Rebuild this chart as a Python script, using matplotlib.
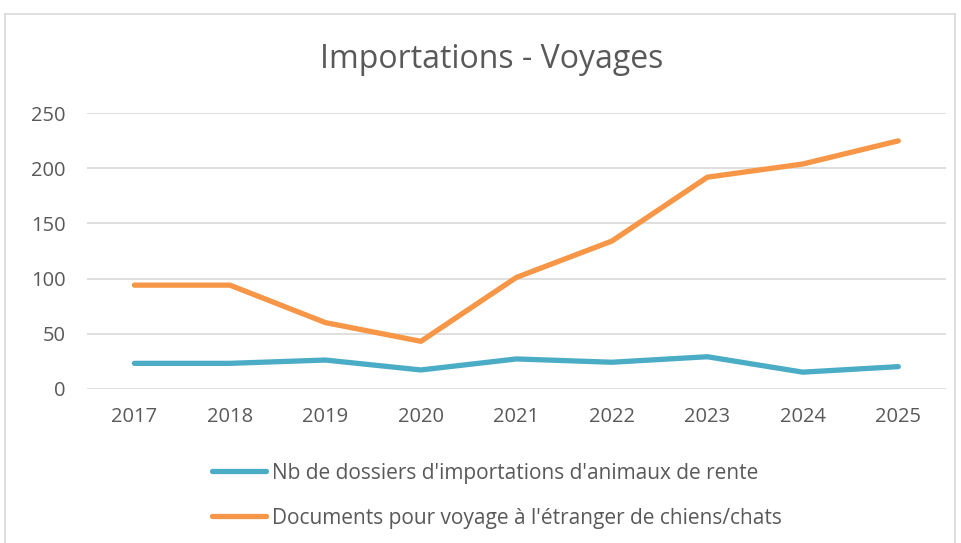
import matplotlib.pyplot as plt
from matplotlib.patches import Rectangle

years = ['2017', '2018', '2019', '2020', '2021', '2022', '2023', '2024', '2025']
dossiers_rente = [23, 23, 26, 17, 27, 24, 29, 15, 20]
docs_voyage = [94, 94, 60, 43, 101, 134, 192, 204, 225]

label_rente = "Nb de dossiers d'importations d'animaux de rente"
label_voyage = "Documents pour voyage à l'étranger de chiens/chats"

blue = '#4BACC6'
orange = '#F79646'
text_col = '#595959'
grid_col = '#D9D9D9'

plt.rcParams['font.family'] = ['Open Sans', 'DejaVu Sans']

fig = plt.figure(figsize=(9.61, 5.43), dpi=100)
ax = fig.add_axes([0.0902, 0.2842, 0.8942, 0.5071])

# chart frame like the spreadsheet export
fig.patches.append(Rectangle((5 / 961, -0.05), 950 / 961, 1 - 14 / 543 + 0.05,
                             transform=fig.transFigure, fill=False,
                             edgecolor=grid_col, linewidth=1.2))

x = range(len(years))
l1, = ax.plot(x, dossiers_rente, color=blue, lw=3.8, solid_capstyle='round',
              solid_joinstyle='round', label=label_rente)
l2, = ax.plot(x, docs_voyage, color=orange, lw=3.8, solid_capstyle='round',
              solid_joinstyle='round', label=label_voyage)

ax.set_xlim(-0.5, len(years) - 0.5)
ax.set_ylim(0, 250)
ax.set_yticks(range(0, 251, 50))
ax.set_xticks(list(x))
ax.set_xticklabels(years)
ax.grid(axis='y', color=grid_col, lw=1.2)
ax.set_axisbelow(True)
for s in ax.spines.values():
    s.set_visible(False)
ax.tick_params(length=0, labelsize=14.5, labelcolor=text_col)
ax.tick_params(axis='y', pad=15)
ax.tick_params(axis='x', pad=13)

fig.text(0.512, 1 - 59 / 543, 'Importations - Voyages', ha='center', va='center',
         fontsize=23, color=text_col)

fig.legend(handles=[l1, l2], loc='center', bbox_to_anchor=(0.517, 0.087),
           frameon=False, fontsize=15, labelcolor=text_col, handlelength=2.6,
           handletextpad=0.25, labelspacing=1.15)

fig.savefig('out.png', dpi=100)
